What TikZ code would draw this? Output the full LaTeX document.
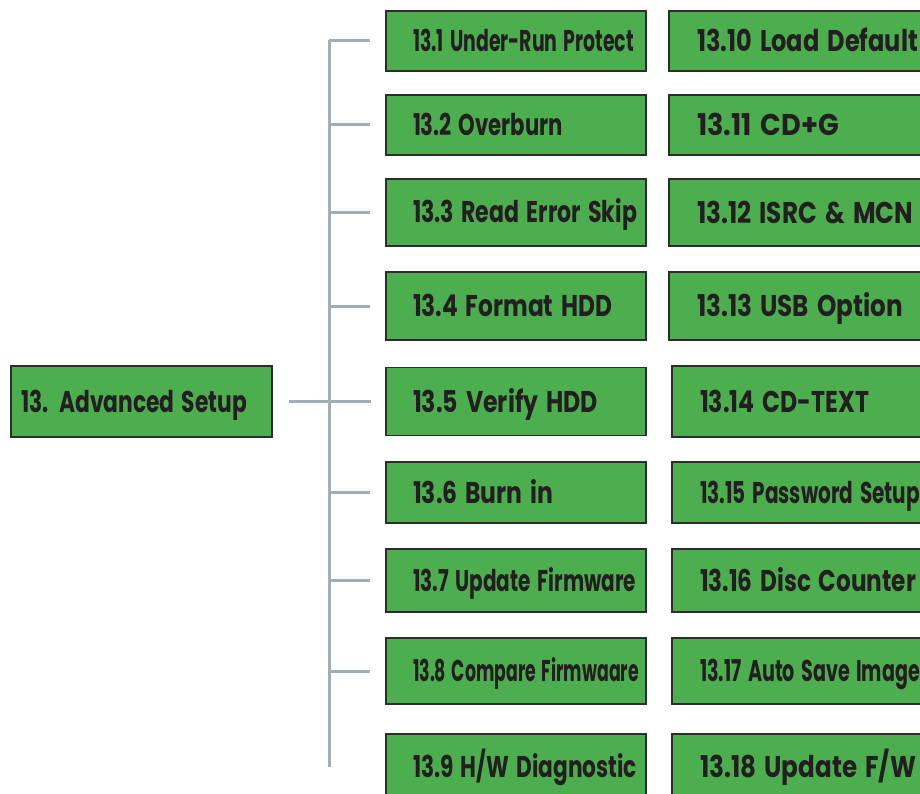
\documentclass[tikz,border=0pt]{standalone}
\usepackage{fontspec}
\usepackage{graphicx}
\usepackage{tikz}
\usetikzlibrary{calc}
\newfontfamily\menufont{Poppins}[UprightFont=* Bold]
\definecolor{menugreen}{RGB}{77,174,80}
\definecolor{menuline}{RGB}{45,45,45}
\definecolor{menutext}{RGB}{35,31,32}
\definecolor{wire}{RGB}{162,173,181}
% squeeze a label to the width it has in the manual
\newcommand{\fitw}[2]{\resizebox{#1pt}{\height}{#2}}

\begin{document}
\begin{tikzpicture}[x=1pt, y=-1pt,
    menu/.style={draw=menuline, fill=menugreen, line width=1.5pt, rectangle,
        inner xsep=0pt, inner ysep=0pt, text height=21pt, text depth=0pt,
        align=left, text=menutext, font=\menufont\fontsize{30}{36}\selectfont},
    leftcol/.style={menu, text width=260pt, execute at begin node={\hspace*{27pt}}},
    rightcol/.style={menu, text width=270pt, execute at begin node={\hspace*{28pt}}},
    link/.style={draw=wire, line width=3pt}]

    \useasboundingbox (0,0) rectangle (920,794);

    \node[menu, text width=261pt, minimum height=71pt, execute at begin node={\hspace*{10pt}}] (adv) at (141.5,401.5) {\fitw{226}{13. Advanced Setup}};

    \node[leftcol, minimum height=60pt] (l1) at (516,41) {\fitw{221}{13.1 Under-Run Protect}};
    \node[leftcol, minimum height=60pt] (l2) at (516,125) {\fitw{150}{13.2 Overburn}};
    \node[leftcol, minimum height=67pt] (l3) at (516,212.5) {\fitw{224}{13.3 Read Error Skip}};
    \node[leftcol, minimum height=68pt] (l4) at (516,306) {\fitw{199}{13.4 Format HDD}};
    \node[leftcol, minimum height=68pt] (l5) at (516,401.5) {\fitw{185}{13.5 Verify HDD}};
    \node[leftcol, minimum height=61pt] (l6) at (516,492.5) {\fitw{140}{13.6 Burn in}};
    \node[leftcol, minimum height=63pt] (l7) at (516,580.5) {\fitw{223}{13.7 Update Firmware}};
    \node[leftcol, minimum height=66pt] (l8) at (516,671) {\fitw{226}{13.8 Compare Firmwaare}};
    \node[leftcol, minimum height=66pt] (l9) at (516,767) {\fitw{224}{13.9 H/W Diagnostic}};

    \node[rightcol, minimum height=60pt] (r1) at (804,41) {\fitw{221}{13.10 Load Default}};
    \node[rightcol, minimum height=60pt] (r2) at (804,125) {\fitw{142}{13.11 CD+G}};
    \node[rightcol, minimum height=67pt] (r3) at (804,212.5) {\fitw{216}{13.12 ISRC \& MCN}};
    \node[rightcol, minimum height=68pt] (r4) at (804,306) {\fitw{206}{13.13 USB Option}};
    \node[rightcol, minimum height=71pt] (r5) at (807,401.5) {\fitw{169}{13.14 CD-TEXT}};
    \node[rightcol, minimum height=61pt] (r6) at (807,492.5) {\fitw{220}{13.15 Password Setup}};
    \node[rightcol, minimum height=63pt] (r7) at (807,580.5) {\fitw{216}{13.16 Disc Counter}};
    \node[rightcol, minimum height=66pt] (r8) at (807,671) {\fitw{220}{13.17 Auto Save Image}};
    \node[rightcol, minimum height=66pt] (r9) at (807,767) {\fitw{216}{13.18 Update F/W}};

    % trunk and branches
    \coordinate (trunktop) at (329,40);
    \coordinate (trunkbot) at (329,767);
    \draw[link] (trunktop) -- (trunkbot);
    \draw[link] (trunktop |- l1) -- ([xshift=-15pt]l1.west);
    \draw[link] (trunktop |- l2) -- ([xshift=-15pt]l2.west);
    \draw[link] (trunktop |- l3) -- ([xshift=-15pt]l3.west);
    \draw[link] (trunktop |- l4) -- ([xshift=-15pt]l4.west);
    \draw[link] (trunktop |- l6) -- ([xshift=-15pt]l6.west);
    \draw[link] (trunktop |- l7) -- ([xshift=-15pt]l7.west);
    \draw[link] (trunktop |- l8) -- ([xshift=-15pt]l8.west);
    \draw[link] ([xshift=16pt]adv.east) -- ([xshift=-14pt]l5.west);

\end{tikzpicture}
\end{document}
